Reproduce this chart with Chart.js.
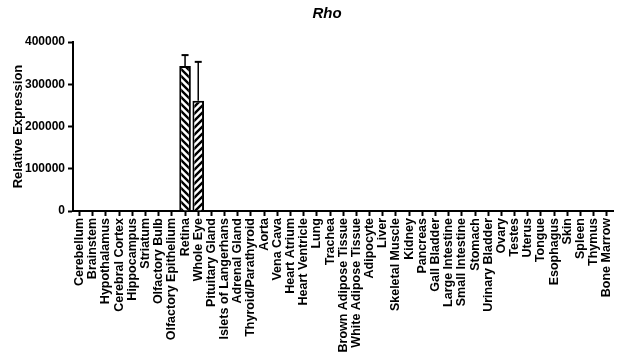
<!DOCTYPE html>
<html>
<head>
<meta charset="utf-8">
<script src="https://cdn.jsdelivr.net/npm/chart.js@4.4.1/dist/chart.umd.min.js"></script>
<style>
    body { margin: 0; background: #fff; }
</style>
</head>
<body>
<canvas id="chart-rho" width="624" height="360"></canvas>
<script>
/* Rho - expression per tissue */
const categories = ['Cerebellum','Brainstem','Hypothalamus','Cerebral Cortex','Hippocampus','Striatum',
    'Olfactory Bulb','Olfactory Epithelium','Retina','Whole Eye','Pituitary Gland','Islets of Langerhans',
    'Adrenal Gland','Thyroid/Parathyroid','Aorta','Vena Cava','Heart Atrium','Heart Ventricle','Lung',
    'Trachea','Brown Adipose Tissue','White Adipose Tissue','Adipocyte','Liver','Skeletal Muscle','Kidney',
    'Pancreas','Gall Bladder','Large Intestine','Small Intestine','Stomach','Urinary Bladder','Ovary',
    'Testes','Uterus','Tongue','Esophagus','Skin','Spleen','Thymus','Bone Marrow'];
const values = [0,0,0,0,0,0,0,0,343000,261000,0,0,0,0,0,0,0,0,0,0,0,0,0,0,0,0,0,0,0,0,0,0,0,0,0,0,0,0,0,0,0];
const errors = [0,0,0,0,0,0,0,0,26000,92000,0,0,0,0,0,0,0,0,0,0,0,0,0,0,0,0,0,0,0,0,0,0,0,0,0,0,0,0,0,0,0];
const yTicks = [0, 100000, 200000, 300000, 400000];
const chartTitle = 'Rho';
const yTitle = 'Relative Expression';

const FONT = "'Liberation Sans', Arial, Helvetica, sans-serif";

// hachuras diagonais
function hatch(dir) {
    const c = document.createElement('canvas');
    c.width = 7; c.height = 7;
    const g = c.getContext('2d');
    g.fillStyle = '#fff'; g.fillRect(0, 0, 7, 7);
    g.strokeStyle = '#000'; g.lineWidth = 2.4;
    g.beginPath();
    if (dir === 'back') {
        g.moveTo(-1, -1); g.lineTo(8, 8);
        g.moveTo(-1, 6); g.lineTo(1, 8);
        g.moveTo(6, -1); g.lineTo(8, 1);
    } else {
        g.moveTo(-1, 8); g.lineTo(8, -1);
        g.moveTo(-1, 1); g.lineTo(1, -1);
        g.moveTo(6, 8); g.lineTo(8, 6);
    }
    g.stroke();
    return document.getElementById('chart-rho').getContext('2d').createPattern(c, 'repeat');
}
const pBack = hatch('back'), pFwd = hatch('fwd');

const errorBars = {
    id: 'errorBars',
    afterDatasetsDraw(chart) {
        const ctx = chart.ctx, y = chart.scales.y;
        ctx.save();
        ctx.strokeStyle = '#000';
        chart.getDatasetMeta(0).data.forEach((bar, i) => {
            if (!errors[i]) return;
            const top = y.getPixelForValue(values[i] + errors[i]);
            ctx.lineWidth = 1.5;
            ctx.beginPath(); ctx.moveTo(bar.x, bar.y); ctx.lineTo(bar.x, top); ctx.stroke();
            ctx.lineWidth = 2;
            ctx.beginPath(); ctx.moveTo(bar.x - 3.5, top); ctx.lineTo(bar.x + 3.5, top); ctx.stroke();
        });
        ctx.restore();
    }
};

const titlePlugin = {
    id: 'titleRho',
    afterDraw(chart) {
        const ctx = chart.ctx;
        ctx.save();
        ctx.font = 'italic bold 15px ' + FONT;
        ctx.fillStyle = '#000';
        ctx.textAlign = 'center'; ctx.textBaseline = 'middle';
        ctx.fillText(chartTitle, 327, 14);
        ctx.restore();
    }
};

new Chart(document.getElementById('chart-rho'), {
    type: 'bar',
    data: {
        labels: categories,
        datasets: [{
            data: values,
            backgroundColor: (c) => c.dataIndex % 2 === 0 ? pBack : pFwd,
            borderColor: '#000',
            borderWidth: 2,
            barPercentage: 0.88,
            categoryPercentage: 1
        }]
    },
    options: {
        responsive: false,
        animation: false,
        layout: { padding: { top: 42, right: 9, left: 0, bottom: 0 } },
        plugins: { legend: { display: false }, tooltip: { enabled: false } },
        scales: {
            x: {
                grid: { drawOnChartArea: false, offset: false, tickLength: 5, tickColor: '#000', tickWidth: 2 },
                border: { color: '#000', width: 2 },
                ticks: { color: '#000', font: { family: FONT, size: 12.5, weight: 'bold' },
                         minRotation: 90, maxRotation: 90, autoSkip: false, padding: 2 },
                afterFit(s) { s.height = 149; }
            },
            y: {
                min: 0, max: 400000,
                afterBuildTicks(s) { s.ticks = yTicks.map(v => ({ value: v })); },
                grid: { drawOnChartArea: false, tickLength: 5, tickColor: '#000', tickWidth: 2 },
                border: { color: '#000', width: 2 },
                ticks: { color: '#000', font: { family: FONT, size: 12, weight: 'bold' }, padding: 3,
                         callback: (v) => String(v) },
                title: { display: true, text: yTitle, color: '#000',
                         font: { family: FONT, size: 13, weight: 'bold' }, padding: { top: 11, bottom: 0 } },
                afterFit(s) { s.width = 73; }
            }
        }
    },
    plugins: [errorBars, titlePlugin]
});
</script>
</body>
</html>
